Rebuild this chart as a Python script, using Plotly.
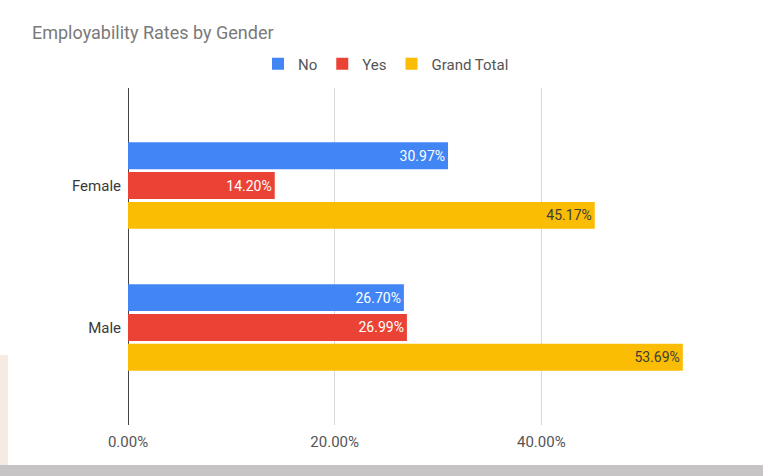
import plotly.graph_objects as go

categories = ["Female", "Male"]
no_vals = [30.97, 26.70]
yes_vals = [14.20, 26.99]
total_vals = [45.17, 53.69]
series_names = ["No", "Yes", "Grand Total"]
tick_vals = [0, 20, 40, 60]
tick_text = ["0.00%", "20.00%", "40.00%", ""]

colors = ["#4285F4", "#EA4335", "#FBBC04"]
text_colors = ["#ffffff", "#ffffff", "#3c3c3c"]
FONT = "Roboto, Arial, sans-serif"

fig = go.Figure()
for name, vals, c, tc in zip(series_names, [no_vals, yes_vals, total_vals], colors, text_colors):
    fig.add_trace(go.Bar(
        y=categories, x=vals, name=name, orientation="h",
        marker=dict(color=c, line=dict(width=0)),
        text=vals, texttemplate="%{x:.2f}%", textposition="inside",
        insidetextanchor="end",
        textfont=dict(color=tc, size=14, family=FONT),
        cliponaxis=False,
    ))

L, R, T, B = 128, 15, 88, 51
W, H = 763, 476
pw, ph = W - L - R, H - T - B

def px_x(p):
    return (p - L) / pw

def px_y(p):
    return (H - B - p) / ph

fig.update_layout(
    width=W, height=H,
    margin=dict(l=L, r=R, t=T, b=B),
    paper_bgcolor="white", plot_bgcolor="white",
    barmode="group", bargap=0.37, bargroupgap=0.1,
    title=dict(text="Employability Rates by Gender", x=32 / W, xanchor="left",
               y=1 - 33 / H, yanchor="middle",
               font=dict(size=18, color="#7a7a7a", family=FONT)),
    legend=dict(orientation="h", x=px_x(386), xanchor="center", y=px_y(64), yanchor="middle",
                font=dict(size=15, color="#555555", family=FONT),
                itemwidth=30, bgcolor="rgba(0,0,0,0)", traceorder="normal"),
    xaxis=dict(range=[0, 60], tickvals=tick_vals, ticktext=tick_text,
               showgrid=True, gridcolor="#d9d9d9", gridwidth=1,
               zeroline=True, zerolinecolor="#444444", zerolinewidth=1,
               showline=False, ticks="", ticklabelstandoff=6,
               tickfont=dict(size=15, color="#555555", family=FONT),
               fixedrange=True),
    yaxis=dict(categoryorder="array", categoryarray=categories,
               range=[1.687, -0.687], showgrid=False, zeroline=False, showline=False,
               ticks="", ticklabelstandoff=6,
               tickfont=dict(size=15, color="#3a3a3a", family=FONT),
               fixedrange=True),
    shapes=[
        dict(type="rect", xref="paper", yref="paper", x0=px_x(0), x1=px_x(W), y0=px_y(H), y1=px_y(465),
             fillcolor="#c6c4c4", line=dict(width=0), layer="below"),
        dict(type="rect", xref="paper", yref="paper", x0=px_x(0), x1=px_x(8), y0=px_y(465), y1=px_y(355),
             fillcolor="#f6ebe3", line=dict(width=0), layer="below"),
    ],
)

fig.write_html("out.html", config={"displayModeBar": False},
               post_script="document.body.style.margin='0';document.body.style.padding='0';")
